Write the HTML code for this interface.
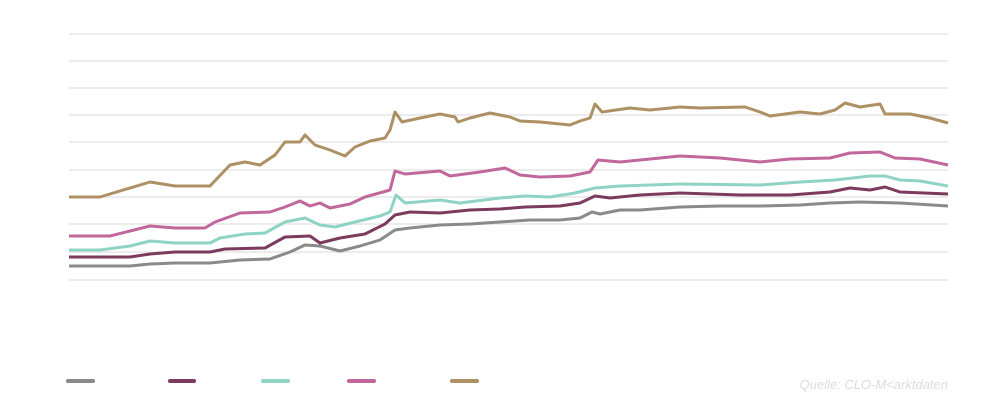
<!DOCTYPE html>
<html><head><meta charset="utf-8"><style>
html,body{margin:0;padding:0;background:#fff;width:1005px;height:404px;overflow:hidden}
svg{display:block}
text{font-family:"Liberation Sans",sans-serif}
</style></head><body>
<svg width="1005" height="404" viewBox="0 0 1005 404">
<g stroke="#e6e6e6" stroke-width="1.5">
<line x1="69" x2="948" y1="34" y2="34"/><line x1="69" x2="948" y1="61" y2="61"/>
<line x1="69" x2="948" y1="88" y2="88"/><line x1="69" x2="948" y1="115" y2="115"/>
<line x1="69" x2="948" y1="142" y2="142"/><line x1="69" x2="948" y1="170" y2="170"/>
<line x1="69" x2="948" y1="197" y2="197"/><line x1="69" x2="948" y1="224" y2="224"/>
<line x1="69" x2="948" y1="252" y2="252"/><line x1="69" x2="948" y1="280" y2="280"/>
</g>
<g fill="none" stroke-width="3" stroke-linejoin="round">
<polyline stroke="#ad9063" points="69,197 100,197 150,182 175,186 210,186 230,165 245,162 260,165 275,155 285,142 300,142 305,135 315,145 330,150 345,156 355,147 370,141 385,138 390,130 395,112 402,122 420,118 440,114 455,117 458,122 470,118 490,113 510,117 520,121 540,122 560,124 570,125 580,121 590,118 595,104 602,112 630,108 650,110 680,107 700,108 745,107 760,112 770,116 800,112 820,114 835,110 845,103 860,107 880,104 885,114 910,114 930,118 948,123"/>
<polyline stroke="#c1679b" points="69,236 110,236 130,231 150,226 175,228 205,228 215,222 240,213 270,212 285,207 300,201 310,206 320,203 330,208 350,204 365,197 390,190 395,171 405,174 440,171 450,176 480,172 505,168 520,175 540,177 570,176 590,172 598,160 620,162 660,158 680,156 720,158 760,162 790,159 830,158 850,153 880,152 895,158 920,159 948,165"/>
<polyline stroke="#8fd3c5" points="69,250 100,250 130,246 150,241 175,243 210,243 220,238 245,234 265,233 285,222 305,218 320,225 335,227 355,222 380,216 390,212 396,195 405,203 440,200 460,203 500,198 525,196 550,197 575,193 595,188 620,186 680,184 760,185 800,182 835,180 870,176 885,176 900,180 920,181 948,186"/>
<polyline stroke="#7b3a5e" points="69,257 130,257 150,254 175,252 210,252 225,249 265,248 285,237 310,236 320,243 340,238 365,234 385,224 395,215 410,212 440,213 470,210 500,209 525,207 560,206 580,203 595,196 610,198 640,195 680,193 740,195 790,195 830,192 850,188 870,190 885,187 900,192 948,194"/>
<polyline stroke="#8a8a8a" points="69,266 130,266 150,264 175,263 210,263 240,260 270,259 290,252 305,245 320,246 340,251 360,246 380,240 395,230 410,228 440,225 470,224 500,222 530,220 560,220 580,218 592,212 600,214 620,210 640,210 680,207 720,206 760,206 800,205 830,203 860,202 900,203 948,206"/>
</g>
<g stroke-width="4" stroke-linecap="round">
<line x1="68" x2="93" y1="381" y2="381" stroke="#8a8a8a"/>
<line x1="170" x2="194" y1="381" y2="381" stroke="#7b3a5e"/>
<line x1="263" x2="288" y1="381" y2="381" stroke="#8fd3c5"/>
<line x1="349" x2="374" y1="381" y2="381" stroke="#c1679b"/>
<line x1="452" x2="477" y1="381" y2="381" stroke="#ad9063"/>
</g>
<text x="948" y="389" text-anchor="end" font-size="13" font-style="italic" fill="#dcdcdc">Quelle: CLO-M&lt;arktdaten</text>
</svg>
</body></html>
